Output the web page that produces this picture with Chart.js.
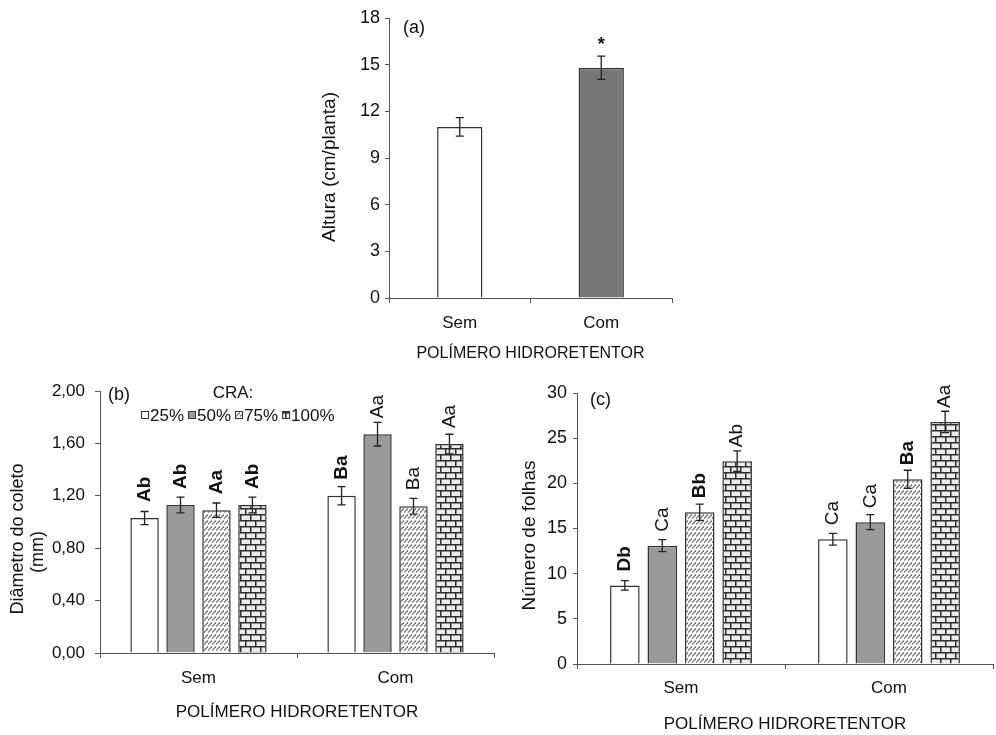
<!DOCTYPE html>
<html>
<head>
<meta charset="utf-8">
<script src="https://cdn.jsdelivr.net/npm/chart.js@4/dist/chart.umd.min.js"></script>
<style>
  html, body { margin: 0; padding: 0; background: #fff; }
  #figure { position: relative; width: 996px; height: 735px; overflow: hidden; background: #fff; }
  #figure canvas { position: absolute; }
</style>
</head>
<body>
<div id="figure">
  <canvas id="chartA" width="400" height="370" style="left:300px;top:0px"></canvas>
  <canvas id="chartB" width="500" height="365" style="left:0px;top:370px"></canvas>
  <canvas id="chartC" width="496" height="365" style="left:500px;top:370px"></canvas>
</div>
<script>
// ---- data ----
const polimero = ['Sem', 'Com'];
const craNiveis = ['25%', '50%', '75%', '100%'];

// (a) Altura (cm/planta): [Sem, Com]
const alturaMedia = [11.0, 14.8];
const alturaErro = [0.6, 0.75];
const alturaSinal = ['', '*'];
const alturaTicks = ['0', '3', '6', '9', '12', '15', '18'];

// (b) Diâmetro do coleto (mm) por CRA: [Sem, Com]
const diametro25 = [1.03, 1.20];
const diametro50 = [1.13, 1.67];
const diametro75 = [1.09, 1.12];
const diametro100 = [1.13, 1.595];
const diametroErro25 = [0.05, 0.07];
const diametroErro50 = [0.06, 0.09];
const diametroErro75 = [0.055, 0.06];
const diametroErro100 = [0.06, 0.075];
const diametroLetras25 = ['Ab', 'Ba'];
const diametroLetras50 = ['Ab', 'Aa'];
const diametroLetras75 = ['Aa', 'Ba'];
const diametroLetras100 = ['Ab', 'Aa'];
const diametroTicks = ['0,00', '0,40', '0,80', '1,20', '1,60', '2,00'];

// (c) Número de folhas por CRA: [Sem, Com]
const folhas25 = [8.7, 13.8];
const folhas50 = [13.1, 15.7];
const folhas75 = [16.8, 20.45];
const folhas100 = [22.45, 26.8];
const folhasErro25 = [0.52, 0.65];
const folhasErro50 = [0.66, 0.83];
const folhasErro75 = [0.89, 1.0];
const folhasErro100 = [1.14, 1.18];
const folhasLetras25 = ['Db', 'Ca'];
const folhasLetras50 = ['Ca', 'Ca'];
const folhasLetras75 = ['Bb', 'Ba'];
const folhasLetras100 = ['Ab', 'Aa'];
const folhasTicks = ['0', '5', '10', '15', '20', '25', '30'];

// ---- styling ----
const FONT = "'Liberation Sans', Arial, sans-serif";
const AXIS = '#555555';
const TEXT = '#111111';
const EDGE = '#333333';
const GRAY_DARK = '#777777';
const GRAY_MID = '#9a9a9a';

function hatchPattern() {
  const c = document.createElement('canvas');
  c.width = 4; c.height = 6;
  const g = c.getContext('2d');
  g.fillStyle = '#f8f8f8';
  g.fillRect(0, 0, 4, 6);
  g.strokeStyle = '#6e6e6e';
  g.lineWidth = 1.1;
  g.beginPath();
  g.moveTo(0, 4.5); g.lineTo(4, 0.5);
  g.stroke();
  return g.createPattern(c, 'repeat');
}

function brickPattern() {
  const c = document.createElement('canvas');
  c.width = 10; c.height = 12;
  const g = c.getContext('2d');
  g.fillStyle = '#ebebeb';
  g.fillRect(0, 0, 10, 12);
  g.fillStyle = '#2e2e2e';
  g.fillRect(0, 0, 10, 1.5);
  g.fillRect(0, 6, 10, 1.5);
  g.fillRect(0, 0, 1.5, 6);
  g.fillRect(5, 6, 1.5, 6);
  return g.createPattern(c, 'repeat');
}

const FILL_HATCH = hatchPattern();
const FILL_BRICK = brickPattern();
const craFills = ['#ffffff', GRAY_MID, FILL_HATCH, FILL_BRICK];

const toNum = s => parseFloat(String(s).replace(',', '.'));

// Error bars, significance letters, panel letter, y-axis title and (optionally) the CRA legend.
function decorations(cfg) {
  return {
    id: 'decorations',
    afterDatasetsDraw(chart) {
      const ctx = chart.ctx;
      const y = chart.scales.y;
      ctx.save();
      chart.data.datasets.forEach((ds, di) => {
        const meta = chart.getDatasetMeta(di);
        meta.data.forEach((bar, i) => {
          const v = ds.data[i];
          const e = ds.errors[i];
          const hi = y.getPixelForValue(v + e);
          const lo = y.getPixelForValue(v - e);
          ctx.strokeStyle = '#222';
          ctx.lineWidth = 1.3;
          ctx.beginPath();
          ctx.moveTo(bar.x, hi); ctx.lineTo(bar.x, lo);
          ctx.moveTo(bar.x - cfg.cap, hi); ctx.lineTo(bar.x + cfg.cap, hi);
          ctx.moveTo(bar.x - cfg.cap, lo); ctx.lineTo(bar.x + cfg.cap, lo);
          ctx.stroke();

          const mark = ds.marks[i];
          if (!mark) return;
          const bold = cfg.bold.indexOf(di + ':' + i) >= 0;
          ctx.fillStyle = '#111';
          ctx.font = (bold ? 'bold ' : '') + cfg.markSize + 'px ' + FONT;
          if (cfg.rotateMarks) {
            ctx.save();
            ctx.translate(bar.x, bar.y - cfg.markGap);
            ctx.rotate(-Math.PI / 2);
            ctx.textAlign = 'left';
            ctx.textBaseline = 'middle';
            ctx.fillText(mark, 0, 0);
            ctx.restore();
          } else {
            ctx.textAlign = 'center';
            ctx.textBaseline = 'alphabetic';
            ctx.fillText(mark, bar.x, hi - cfg.markGap);
          }
        });
      });
      ctx.restore();
    },
    afterDraw(chart) {
      const ctx = chart.ctx;
      const a = chart.chartArea;
      ctx.save();
      ctx.fillStyle = TEXT;

      ctx.font = cfg.letterSize + 'px ' + FONT;
      ctx.textAlign = 'left';
      ctx.textBaseline = 'middle';
      ctx.fillText(cfg.letter, a.left + cfg.letterDx, a.top + cfg.letterDy);

      ctx.font = cfg.titleSize + 'px ' + FONT;
      ctx.textAlign = 'center';
      const cy = (a.top + a.bottom) / 2;
      cfg.yTitle.forEach((line, k) => {
        ctx.save();
        ctx.translate(cfg.yTitleX[k], cy + cfg.yTitleShift[k]);
        ctx.rotate(-Math.PI / 2);
        ctx.fillText(line, 0, 0);
        ctx.restore();
      });

      if (cfg.legend) {
        ctx.font = '17px ' + FONT;
        ctx.textAlign = 'center';
        ctx.fillText(cfg.legend, a.left + 133, a.top + 2);
        ctx.textAlign = 'left';
        let x = a.left + 41;
        const ly = a.top + 24;
        chart.data.datasets.forEach(ds => {
          ctx.fillStyle = ds.backgroundColor;
          ctx.fillRect(x, ly - 4, 8, 8);
          ctx.strokeStyle = EDGE;
          ctx.lineWidth = 1;
          ctx.strokeRect(x + 0.5, ly - 3.5, 7, 7);
          ctx.fillStyle = TEXT;
          ctx.fillText(ds.label, x + 9, ly + 1);
          x += 9 + ctx.measureText(ds.label).width + 4;
        });
      }
      ctx.restore();
    }
  };
}

function axes(o) {
  return {
    x: {
      afterFit: s => { s.height = o.xHeight; },
      border: { display: true, color: AXIS, width: 1 },
      grid: { display: true, offset: true, drawOnChartArea: false, drawTicks: true, tickLength: 5, color: AXIS },
      ticks: { color: TEXT, font: { family: FONT, size: 17 }, padding: o.xTickPad, maxRotation: 0 },
      title: {
        display: true, text: 'POLÍMERO HIDRORETENTOR', color: TEXT,
        font: { family: FONT, size: o.xTitleSize },
        padding: { top: 0, bottom: o.xTitlePad }
      }
    },
    y: {
      min: 0,
      max: toNum(o.ticks[o.ticks.length - 1]),
      afterBuildTicks: s => { s.ticks = o.ticks.map(t => ({ value: toNum(t) })); },
      afterFit: s => { s.width = o.yWidth; },
      border: { display: true, color: AXIS, width: 1 },
      grid: { display: true, drawOnChartArea: false, drawTicks: true, tickLength: o.yTick, color: AXIS },
      ticks: {
        color: TEXT, font: { family: FONT, size: o.yTickSize }, padding: o.yTickPad,
        callback: (v, i) => o.ticks[i]
      }
    }
  };
}

const common = {
  responsive: false,
  animation: false,
  events: [],
  plugins: { legend: { display: false }, tooltip: { enabled: false } }
};

// (a) Altura
new Chart(document.getElementById('chartA'), {
  type: 'bar',
  data: {
    labels: polimero,
    datasets: [{
      label: 'Altura',
      data: alturaMedia,
      errors: alturaErro,
      marks: alturaSinal,
      backgroundColor: ['#ffffff', GRAY_DARK],
      borderColor: EDGE,
      borderWidth: 1.5,
      categoryPercentage: 0.8,
      barPercentage: 0.4
    }]
  },
  options: Object.assign({}, common, {
    layout: { padding: { top: 18, right: 28, bottom: 0, left: 0 } },
    scales: axes({ xHeight: 72, xTickPad: 10, xTitleSize: 16, xTitlePad: 7,
                   ticks: alturaTicks, yWidth: 89, yTick: 4, yTickSize: 18, yTickPad: 5 })
  }),
  plugins: [decorations({
    cap: 4, markSize: 18, markGap: 6, rotateMarks: false, bold: ['0:1'],
    letter: '(a)', letterSize: 18, letterDx: 14, letterDy: 10,
    yTitle: ['Altura (cm/planta)'], titleSize: 19, yTitleX: [30], yTitleShift: [9]
  })]
});

// (b) Diâmetro do coleto
const diamValues = [diametro25, diametro50, diametro75, diametro100];
const diamErrors = [diametroErro25, diametroErro50, diametroErro75, diametroErro100];
const diamLetters = [diametroLetras25, diametroLetras50, diametroLetras75, diametroLetras100];
new Chart(document.getElementById('chartB'), {
  type: 'bar',
  data: {
    labels: polimero,
    datasets: craNiveis.map((lbl, k) => ({
      label: lbl,
      data: diamValues[k],
      errors: diamErrors[k],
      marks: diamLetters[k],
      backgroundColor: craFills[k],
      borderColor: EDGE,
      borderWidth: 1.5,
      categoryPercentage: 0.73,
      barPercentage: 0.79
    }))
  },
  options: Object.assign({}, common, {
    layout: { padding: { top: 21, right: 6, bottom: 0, left: 0 } },
    scales: axes({ xHeight: 82, xTickPad: 10, xTitleSize: 17, xTitlePad: 12,
                   ticks: diametroTicks, yWidth: 100, yTick: 5, yTickSize: 17, yTickPad: 10 })
  }),
  plugins: [decorations({
    cap: 4, markSize: 19, markGap: 16, rotateMarks: true,
    bold: ['0:0', '1:0', '2:0', '3:0', '0:1'],
    letter: '(b)', letterSize: 18, letterDx: 8, letterDy: 4,
    yTitle: ['Diâmetro do coleto', '(mm)'], titleSize: 18, yTitleX: [18, 38], yTitleShift: [17, 30],
    legend: 'CRA:'
  })]
});

// (c) Número de folhas
const folhasValues = [folhas25, folhas50, folhas75, folhas100];
const folhasErrors = [folhasErro25, folhasErro50, folhasErro75, folhasErro100];
const folhasLetters = [folhasLetras25, folhasLetras50, folhasLetras75, folhasLetras100];
new Chart(document.getElementById('chartC'), {
  type: 'bar',
  data: {
    labels: polimero,
    datasets: craNiveis.map((lbl, k) => ({
      label: lbl,
      data: folhasValues[k],
      errors: folhasErrors[k],
      marks: folhasLetters[k],
      backgroundColor: craFills[k],
      borderColor: EDGE,
      borderWidth: 1.5,
      categoryPercentage: 0.72,
      barPercentage: 0.79
    }))
  },
  options: Object.assign({}, common, {
    layout: { padding: { top: 23, right: 3, bottom: 0, left: 0 } },
    scales: axes({ xHeight: 71, xTickPad: 9, xTitleSize: 17, xTitlePad: 0,
                   ticks: folhasTicks, yWidth: 77, yTick: 4, yTickSize: 18, yTickPad: 6 })
  }),
  plugins: [decorations({
    cap: 4, markSize: 19, markGap: 14, rotateMarks: true,
    bold: ['0:0', '2:0', '2:1'],
    letter: '(c)', letterSize: 18, letterDx: 13, letterDy: 7,
    yTitle: ['Número de folhas'], titleSize: 19, yTitleX: [30], yTitleShift: [7]
  })]
});
</script>
</body>
</html>
